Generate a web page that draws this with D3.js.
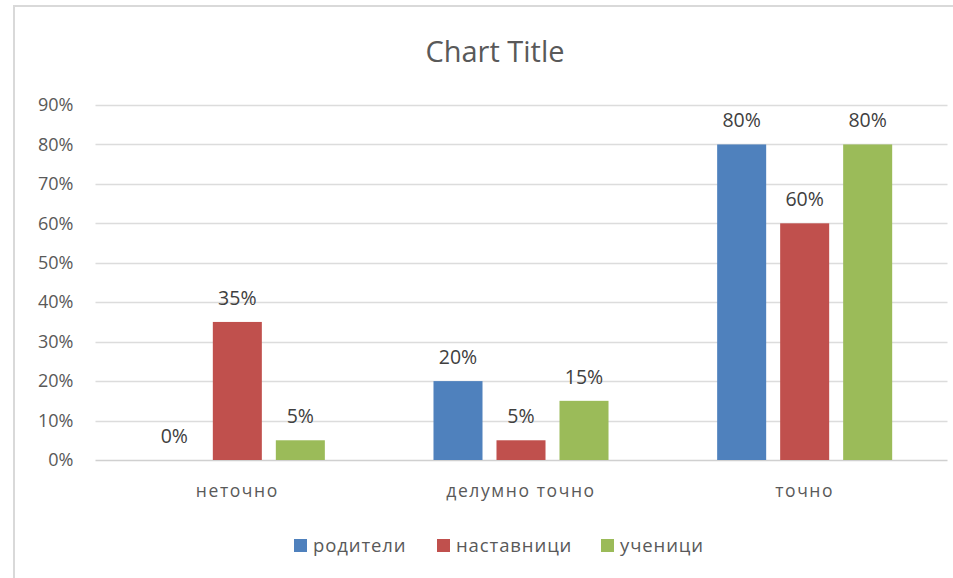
<!DOCTYPE html>
<html>
<head>
<meta charset="utf-8">
<script src="https://cdn.jsdelivr.net/npm/d3@7"></script>
<style>
  body { margin: 0; background: #fff; }
  svg { display: block; }
</style>
</head>
<body>
<svg id="chart"></svg>
<script>
const categories = ['неточно', 'делумно точно', 'точно'];
const series = ['родители', 'наставници', 'ученици'];
const colors = ['#4f81bd', '#c0504d', '#9bbb59'];
const roditeli = [0, 20, 80];
const nastavnici = [35, 5, 60];
const ucenici = [5, 15, 80];
const yTicks = [0, 10, 20, 30, 40, 50, 60, 70, 80, 90];

const values = [roditeli, nastavnici, ucenici];
const data = categories.map((c, i) => ({
    cat: c,
    vals: series.map((s, j) => ({ key: s, value: values[j][i], color: colors[j] }))
}));

const width = 953, height = 578;
const plot = { left: 95.5, right: 946.5, top: 105, bottom: 460 };

const svg = d3.select('#chart')
    .attr('width', width)
    .attr('height', height);

// chart frame
svg.append('path')
    .attr('d', `M14,${height} V6 H${width}`)
    .attr('fill', 'none')
    .attr('stroke', '#d9d9d9')
    .attr('stroke-width', 2);

svg.append('text')
    .attr('x', 495)
    .attr('y', 62)
    .attr('text-anchor', 'middle')
    .attr('font-family', 'Open Sans, sans-serif')
    .attr('font-size', 29)
    .attr('fill', '#595959')
    .text('Chart Title');

const x0 = d3.scaleBand()
    .domain(categories)
    .range([plot.left, plot.right]);

const groupW = x0.bandwidth() * 0.617;
const x1 = d3.scaleBand()
    .domain(series)
    .range([(x0.bandwidth() - groupW) / 2, (x0.bandwidth() + groupW) / 2])
    .paddingInner(0.222);

const y = d3.scaleLinear()
    .domain([0, 90])
    .range([plot.bottom, plot.top]);

// gridlines
svg.append('g')
    .selectAll('line')
    .data(yTicks)
    .join('line')
    .attr('x1', plot.left)
    .attr('x2', plot.right + 1)
    .attr('y1', d => Math.round(y(d)) + 0.5)
    .attr('y2', d => Math.round(y(d)) + 0.5)
    .attr('stroke', d => d === 0 ? '#d0d0d0' : '#dcdcdc')
    .attr('stroke-width', 1.5);

// y axis labels
const yAxis = d3.axisLeft(y)
    .tickValues(yTicks)
    .tickFormat(d => d + '%')
    .tickSize(0)
    .tickPadding(22);

const ya = svg.append('g')
    .attr('transform', `translate(${plot.left},0)`)
    .call(yAxis);
ya.select('.domain').remove();
ya.selectAll('text')
    .attr('font-family', 'Open Sans, sans-serif')
    .attr('font-size', 18)
    .attr('fill', '#595959');

// x axis labels
const xAxis = d3.axisBottom(x0).tickSize(0).tickPadding(25);
const xa = svg.append('g')
    .attr('transform', `translate(0,${plot.bottom})`)
    .call(xAxis);
xa.select('.domain').remove();
xa.selectAll('text')
    .attr('font-family', 'Open Sans, sans-serif')
    .attr('font-size', 17.5)
    .attr('letter-spacing', 1.6)
    .attr('fill', '#595959');

// bars
const groups = svg.append('g')
    .selectAll('g')
    .data(data)
    .join('g')
    .attr('transform', d => `translate(${x0(d.cat)},0)`);

groups.selectAll('rect')
    .data(d => d.vals)
    .join('rect')
    .attr('x', d => x1(d.key))
    .attr('y', d => y(d.value))
    .attr('width', x1.bandwidth())
    .attr('height', d => plot.bottom - y(d.value))
    .attr('fill', d => d.color);

groups.selectAll('text')
    .data(d => d.vals)
    .join('text')
    .attr('x', d => x1(d.key) + x1.bandwidth() / 2)
    .attr('y', d => y(d.value) - 17)
    .attr('text-anchor', 'middle')
    .attr('font-family', 'Open Sans, sans-serif')
    .attr('font-size', 19.5)
    .attr('fill', '#404040')
    .text(d => d.value + '%');

// legend
const legendX = [294, 437, 601];
const legend = svg.append('g')
    .selectAll('g')
    .data(series)
    .join('g')
    .attr('transform', (d, i) => `translate(${legendX[i]},539)`);

legend.append('rect')
    .attr('width', 13)
    .attr('height', 13)
    .attr('fill', (d, i) => colors[i]);

legend.append('text')
    .attr('x', 19)
    .attr('y', 13)
    .attr('font-family', 'Open Sans, sans-serif')
    .attr('font-size', 18.5)
    .attr('letter-spacing', 0.9)
    .attr('fill', '#595959')
    .text(d => d);
</script>
</body>
</html>
